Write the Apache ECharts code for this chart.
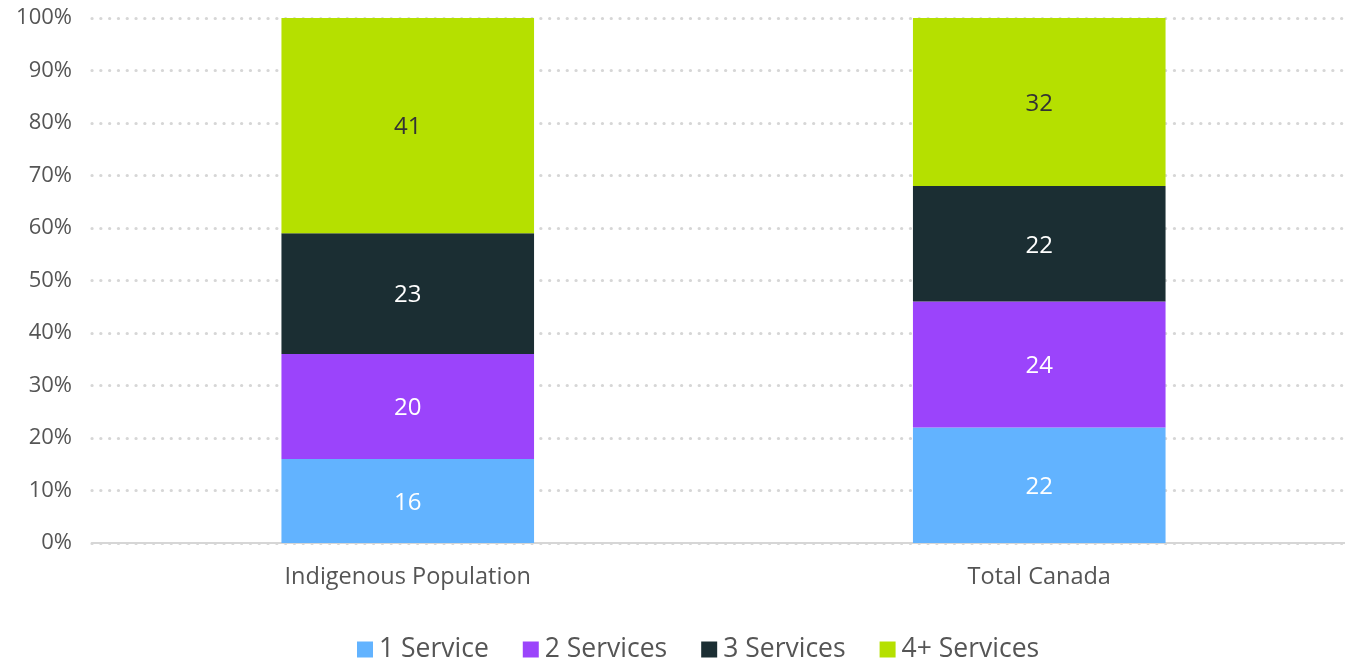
<!DOCTYPE html>
<html><head><meta charset="utf-8">
<script src="https://cdn.jsdelivr.net/npm/echarts@6/dist/echarts.min.js"></script>
<style>html,body{margin:0;padding:0;background:#fff}#c{width:1345px;height:660px}</style>
</head><body><div id="c"></div>
<script>
const categories = ['Indigenous Population', 'Total Canada'];
const seriesNames = ['1 Service', '2 Services', '3 Services', '4+ Services'];
const oneService = [16, 22];
const twoServices = [20, 24];
const threeServices = [23, 22];
const fourPlusServices = [41, 32];
const colors = ['#62b3ff', '#9b44fb', '#1b2e33', '#b5e000'];
const labelColors = ['#ffffff', '#ffffff', '#ffffff', '#333333'];
const values = [oneService, twoServices, threeServices, fourPlusServices];
const font = '"Open Sans", sans-serif';

const chart = echarts.init(document.getElementById('c'));
chart.setOption({
  animation: false,
  textStyle: { fontFamily: font },
  grid: { left: 92, width: 1263, top: 18, bottom: 117, outerBoundsMode: 'none', containLabel: false },
  legend: {
    top: 631, left: 352,
    itemWidth: 16, itemHeight: 16, itemGap: 34,
    icon: 'rect',
    textStyle: { fontSize: 26.5, color: '#555', fontFamily: font, padding: [0,0,0,1] },
    data: seriesNames
  },
  xAxis: {
    type: 'category', data: categories,
    axisLine: { lineStyle: { color: '#d6d6d6', width: 2 } },
    axisTick: { show: false },
    axisLabel: { fontSize: 23.5, color: '#555', margin: 22, fontFamily: font }
  },
  yAxis: {
    type: 'value', min: 0, max: 100, interval: 10,
    axisLabel: { formatter: '{value}%', fontSize: 22, color: '#555', margin: 20, fontFamily: font },
    axisLine: { show: false }, axisTick: { show: false },
    splitLine: { lineStyle: { color: '#d6d6d6', type: [0.1, 8.7], width: 3.2, cap: 'round' } }
  },
  series: seriesNames.map((n, i) => ({
    name: n, type: 'bar', stack: 'total', data: values[i],
    barWidth: '40%',
    itemStyle: { color: colors[i] },
    label: { show: true, position: 'inside', offset: [0, 2], color: labelColors[i], fontSize: 24, fontFamily: font }
  }))
});
</script></body></html>
